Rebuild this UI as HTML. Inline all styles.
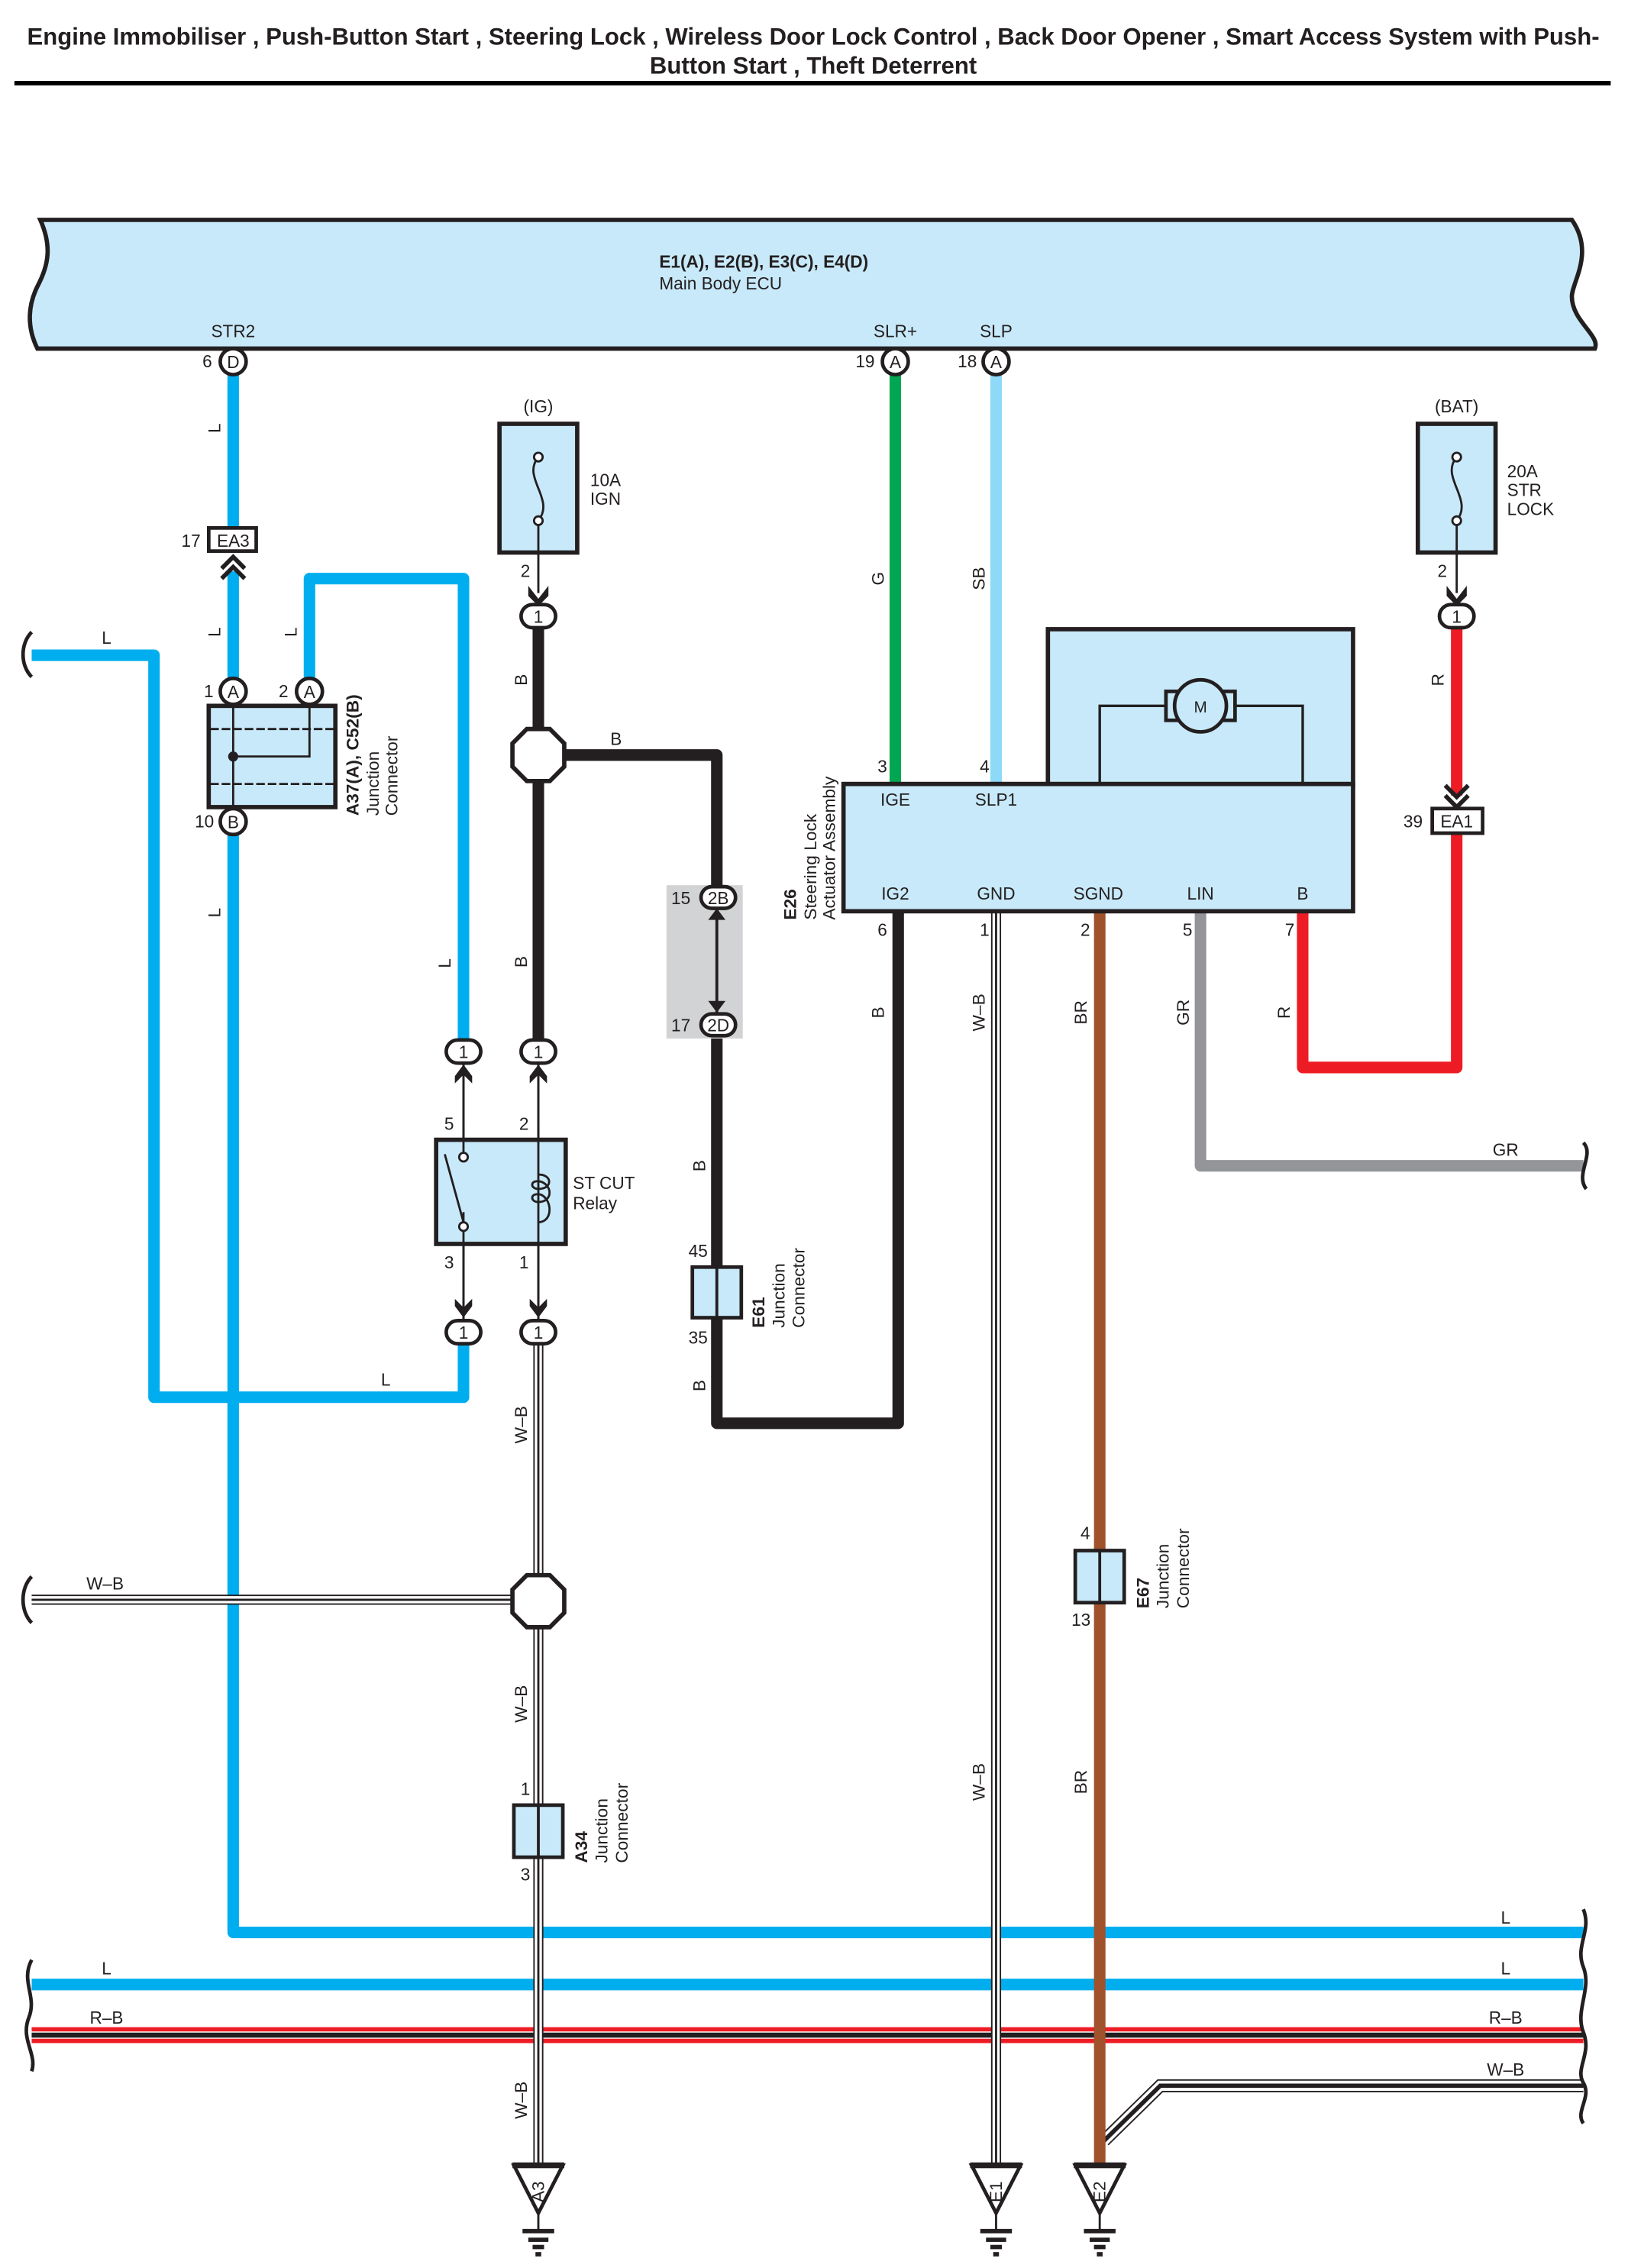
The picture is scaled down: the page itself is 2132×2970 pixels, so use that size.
<!DOCTYPE html>
<html><head><meta charset="utf-8"><style>html,body{margin:0;padding:0;background:#fff}svg{display:block}text{font-family:"Liberation Sans",sans-serif;fill:#231f20}</style></head><body>
<svg width="2132" height="2970" viewBox="0 0 1131 1568" preserveAspectRatio="none" xmlns="http://www.w3.org/2000/svg">
<defs>
<g id="gnd"><path d="M-17,0 L17,0 L0,33 Z" fill="#fff" stroke="#231f20" stroke-width="2.5"/><rect x="-18" y="-2" width="36" height="4" fill="#231f20"/><line x1="0" y1="33" x2="0" y2="45" stroke="#231f20" stroke-width="1.5"/><rect x="-11" y="44" width="22" height="3" fill="#231f20"/><rect x="-7" y="50" width="14" height="3" fill="#231f20"/><rect x="-4" y="55" width="8" height="3" fill="#231f20"/><rect x="-2" y="60" width="4" height="3" fill="#231f20"/></g>
<g id="oct"><path d="M-8,-18 L8,-18 L18,-8 L18,8 L8,18 L-8,18 L-18,8 L-18,-8 Z" fill="#fff" stroke="#231f20" stroke-width="3"/></g>
<g id="c1"><rect x="-12" y="-8" width="24" height="16" rx="8" fill="#fff" stroke="#231f20" stroke-width="2.5"/><text x="0" y="4.5" font-size="12" text-anchor="middle">1</text></g>
</defs>
<!-- title -->
<text x="565" y="31" font-size="16.5" font-weight="bold" text-anchor="middle">Engine Immobiliser , Push-Button Start , Steering Lock , Wireless Door Lock Control , Back Door Opener , Smart Access System with Push-</text>
<text x="565" y="51" font-size="16.5" font-weight="bold" text-anchor="middle">Button Start , Theft Deterrent</text>
<rect x="10" y="56" width="1109" height="3" fill="#000"/>

<!-- ECU -->
<path d="M28,152 L1092,152 C1108,175 1092,195 1092,205 C1092,222 1112,232 1108,241 L26,241 C18,225 20,210 26,198 C34,183 36,170 28,152 Z" fill="#c8e9f9" stroke="#231f20" stroke-width="3"/>
<text x="458" y="185" font-size="12" font-weight="bold">E1(A), E2(B), E3(C), E4(D)</text>
<text x="458" y="200" font-size="12">Main Body ECU</text>
<text x="162" y="233" font-size="12" text-anchor="middle">STR2</text>
<text x="622" y="233" font-size="12" text-anchor="middle">SLR+</text>
<text x="692" y="233" font-size="12" text-anchor="middle">SLP</text>

<!-- blue wires -->
<g fill="none" stroke="#00aeef" stroke-width="8" stroke-linejoin="round">
<path d="M162,258 V365"/>
<path d="M162,395 V470"/>
<path d="M215,470 V400 H322 V718"/>
<path d="M22,453 H107 V966 H322 V930"/>
<path d="M162,576 V1336 H1100"/>
<path d="M22,1372 H1100"/>
</g>
<!-- R-B -->
<path d="M22,1407 H1100" stroke="#ed1c24" stroke-width="11"/>
<path d="M22,1407 H1100" stroke="#fff" stroke-width="5"/>
<path d="M22,1407 H1100" stroke="#231f20" stroke-width="3.5"/>
<!-- W-B lines -->
<g fill="none" stroke-linejoin="miter">
<path d="M22,1106 H360" stroke="#231f20" stroke-width="7"/><path d="M22,1106 H360" stroke="#fff" stroke-width="5"/><path d="M22,1106 H360" stroke="#231f20" stroke-width="1.5"/>
<path d="M1100,1442 H806 L767,1480" stroke="#231f20" stroke-width="9"/><path d="M1100,1442 H806 L767,1480" stroke="#fff" stroke-width="7"/><path d="M1100,1442 H806 L767,1480" stroke="#231f20" stroke-width="3"/>
<path d="M374,930 V1496" stroke="#231f20" stroke-width="7"/><path d="M374,930 V1496" stroke="#fff" stroke-width="5"/><path d="M374,930 V1496" stroke="#231f20" stroke-width="1.5"/>
<path d="M692,630 V1496" stroke="#231f20" stroke-width="7"/><path d="M692,630 V1496" stroke="#fff" stroke-width="5"/><path d="M692,630 V1496" stroke="#231f20" stroke-width="1.5"/>
</g>
<!-- green, SB -->
<path d="M622,258 V542" stroke="#00a651" stroke-width="8"/>
<path d="M692,258 V542" stroke="#8ed8f8" stroke-width="8"/>
<!-- black B wires -->
<g fill="none" stroke="#231f20" stroke-width="8" stroke-linejoin="round">
<path d="M374,434 V718"/>
<path d="M374,522 H498 V612"/>
<path d="M498,716 V984 H624 V630"/>
</g>
<!-- brown -->
<path d="M764,630 V1496" stroke="#a0522d" stroke-width="8"/>
<!-- gray -->
<path d="M834,630 V806 H1100" fill="none" stroke="#939598" stroke-width="8" stroke-linejoin="round"/>
<!-- red -->
<path d="M905,630 V738 H1012 V575" fill="none" stroke="#ed1c24" stroke-width="8" stroke-linejoin="round"/>
<path d="M1012,434 V550" stroke="#ed1c24" stroke-width="8"/>

<!-- wavy breaks -->
<g fill="none" stroke="#231f20" stroke-width="2.5">
<path d="M22,437 C14,445 14,460 22,468"/>
<path d="M22,1090 C14,1098 14,1114 22,1122"/>
<path d="M22,1355 C14,1370 26,1380 20,1395 C14,1410 26,1420 22,1432"/>
<path d="M1100,790 C1108,798 1094,812 1102,822"/>
<path d="M1100,1320 C1106,1335 1094,1345 1100,1360 C1106,1375 1094,1390 1100,1405 C1106,1420 1094,1430 1100,1440 C1106,1450 1094,1460 1100,1468"/>
</g>

<!-- ECU pins -->
<g font-size="12" text-anchor="middle">
<circle cx="162" cy="250" r="9" fill="#fff" stroke="#231f20" stroke-width="2.5"/><text x="162" y="254.5">D</text><text x="144" y="254">6</text>
<circle cx="622" cy="250" r="9" fill="#fff" stroke="#231f20" stroke-width="2.5"/><text x="622" y="254.5">A</text><text x="601" y="254">19</text>
<circle cx="692" cy="250" r="9" fill="#fff" stroke="#231f20" stroke-width="2.5"/><text x="692" y="254.5">A</text><text x="672" y="254">18</text>
</g>

<!-- EA3 -->
<rect x="145" y="365" width="33" height="16" fill="#fff" stroke="#231f20" stroke-width="2.5"/>
<text x="162" y="378" font-size="12" text-anchor="middle">EA3</text><text x="126" y="378" font-size="12">17</text>
<path d="M154,393 L162,385 L170,393 M154,400 L162,392 L170,400" fill="none" stroke="#231f20" stroke-width="3"/>

<!-- A37 junction -->
<rect x="145" y="488" width="88" height="70" fill="#c8e9f9" stroke="#231f20" stroke-width="3"/>
<g stroke="#231f20" stroke-width="1.5" fill="none">
<line x1="146" y1="504" x2="232" y2="504" stroke-dasharray="6,2"/>
<line x1="146" y1="542" x2="232" y2="542" stroke-dasharray="6,2"/>
<line x1="162" y1="488" x2="162" y2="558"/>
<path d="M215,488 V523 H162"/>
</g>
<circle cx="162" cy="523" r="3.5" fill="#231f20"/>
<g font-size="12" text-anchor="middle">
<circle cx="162" cy="478" r="9" fill="#fff" stroke="#231f20" stroke-width="2.5"/><text x="162" y="482.5">A</text><text x="145" y="482">1</text>
<circle cx="215" cy="478" r="9" fill="#fff" stroke="#231f20" stroke-width="2.5"/><text x="215" y="482.5">A</text><text x="197" y="482">2</text>
<circle cx="162" cy="568" r="9" fill="#fff" stroke="#231f20" stroke-width="2.5"/><text x="162" y="572.5">B</text><text x="142" y="572">10</text>
</g>
<g font-size="12"><text transform="translate(249,564) rotate(-90)" font-weight="bold">A37(A), C52(B)</text><text transform="translate(263,564) rotate(-90)">Junction</text><text transform="translate(276,564) rotate(-90)">Connector</text></g>

<!-- IG fuse -->
<text x="374" y="285" font-size="12" text-anchor="middle">(IG)</text>
<rect x="347" y="293" width="54" height="89" fill="#c8e9f9" stroke="#231f20" stroke-width="3"/>
<path d="M374,316 C362,330 386,345 374,360 V410" fill="none" stroke="#231f20" stroke-width="1.5"/>
<circle cx="374" cy="316" r="3" fill="#fff" stroke="#231f20" stroke-width="1.5"/><circle cx="374" cy="360" r="3" fill="#fff" stroke="#231f20" stroke-width="1.5"/>
<text x="410" y="336" font-size="12">10A</text><text x="410" y="349" font-size="12">IGN</text>
<text x="365" y="399" font-size="12" text-anchor="middle">2</text>
<path d="M367,405 L374,414 L381,405 V412 L374,419 L367,412 Z" fill="#231f20"/>
<use href="#c1" x="374" y="426"/>

<!-- BAT fuse -->
<text x="1012" y="285" font-size="12" text-anchor="middle">(BAT)</text>
<rect x="985" y="293" width="54" height="89" fill="#c8e9f9" stroke="#231f20" stroke-width="3"/>
<path d="M1012,316 C1000,330 1024,345 1012,360 V410" fill="none" stroke="#231f20" stroke-width="1.5"/>
<circle cx="1012" cy="316" r="3" fill="#fff" stroke="#231f20" stroke-width="1.5"/><circle cx="1012" cy="360" r="3" fill="#fff" stroke="#231f20" stroke-width="1.5"/>
<text x="1047" y="330" font-size="12">20A</text><text x="1047" y="343" font-size="12">STR</text><text x="1047" y="356" font-size="12">LOCK</text>
<text x="1002" y="399" font-size="12" text-anchor="middle">2</text>
<path d="M1005,405 L1012,414 L1019,405 V412 L1012,419 L1005,412 Z" fill="#231f20"/>
<use href="#c1" x="1012" y="426"/>
<path d="M1004,543 L1012,551 L1020,543 M1004,550 L1012,558 L1020,550" fill="none" stroke="#231f20" stroke-width="3"/>
<rect x="995" y="559" width="35" height="17" fill="#fff" stroke="#231f20" stroke-width="2.5"/>
<text x="1012" y="572" font-size="12" text-anchor="middle">EA1</text><text x="975" y="572" font-size="12">39</text>

<!-- octagons -->
<use href="#oct" x="374" y="522"/>
<use href="#oct" x="374" y="1107"/>

<!-- 2B/2D -->
<rect x="463" y="612" width="53" height="106" fill="#d1d3d4"/>
<path d="M498,628 V700" stroke="#231f20" stroke-width="2"/>
<path d="M492,636 L498,628 L504,636 Z M492,692 L498,700 L504,692 Z" fill="#231f20"/>
<rect x="487" y="613" width="24" height="15" rx="7.5" fill="#fff" stroke="#231f20" stroke-width="2.5"/><text x="499" y="625" font-size="12" text-anchor="middle">2B</text>
<rect x="487" y="701" width="24" height="15" rx="7.5" fill="#fff" stroke="#231f20" stroke-width="2.5"/><text x="499" y="713" font-size="12" text-anchor="middle">2D</text>
<text x="473" y="625" font-size="12" text-anchor="middle">15</text><text x="473" y="713" font-size="12" text-anchor="middle">17</text>

<!-- relay connectors -->
<use href="#c1" x="322" y="727"/><use href="#c1" x="374" y="727"/>
<use href="#c1" x="322" y="921"/><use href="#c1" x="374" y="921"/>
<g stroke="#231f20" stroke-width="1.5" fill="none">
<path d="M322,735 V823"/><path d="M374,735 V810"/><path d="M374,845 V913"/><path d="M322,848 V913"/>
<path d="M309,798 L322,848"/>
<path d="M374,810 C384,812 384,820 376,822 C368,823 368,812 376,816 C384,820 384,832 376,833 C368,835 368,824 376,828 C384,832 384,843 374,845"/>
</g>
<path d="M316,744 L322,736 L328,744 V749 L322,743 L316,749 Z M368,744 L374,736 L380,744 V749 L374,743 L368,749 Z" fill="#231f20"/>
<rect x="303" y="788" width="90" height="72" fill="#c8e9f9" stroke="#231f20" stroke-width="3"/>
<g stroke="#231f20" stroke-width="1.5" fill="none">
<path d="M322,779 V798"/><path d="M374,779 V860"/><path d="M322,838 V870"/>
<path d="M309,798 L322,845"/>
<path d="M374,812 C384,812 384,822 374,822 C368,822 368,815 376,817 C384,820 384,831 374,831 C368,831 368,824 376,826 C384,830 384,845 374,845"/>
</g>
<circle cx="322" cy="800" r="3" fill="#fff" stroke="#231f20" stroke-width="1.5"/><circle cx="322" cy="848" r="3" fill="#fff" stroke="#231f20" stroke-width="1.5"/>
<g stroke="#231f20" stroke-width="1.5"><path d="M322,735 V788 M374,735 V788 M322,860 V913 M374,860 V913"/></g>
<path d="M316,903 L322,911 L328,903 V898 L322,904 L316,898 Z M368,903 L374,911 L380,903 V898 L374,904 L368,898 Z" fill="#231f20"/>
<g font-size="12" text-anchor="middle"><text x="312" y="781">5</text><text x="364" y="781">2</text><text x="312" y="877">3</text><text x="364" y="877">1</text></g>
<text x="398" y="822" font-size="12">ST CUT</text><text x="398" y="836" font-size="12">Relay</text>

<!-- E61 -->
<rect x="481" y="876" width="34" height="35" fill="#c8e9f9" stroke="#231f20" stroke-width="2.5"/><line x1="498" y1="876" x2="498" y2="911" stroke="#231f20" stroke-width="2"/>
<text x="485" y="869" font-size="12" text-anchor="middle">45</text><text x="485" y="929" font-size="12" text-anchor="middle">35</text>
<g font-size="12"><text transform="translate(531,918) rotate(-90)" font-weight="bold">E61</text><text transform="translate(545,918) rotate(-90)">Junction</text><text transform="translate(559,918) rotate(-90)">Connector</text></g>

<!-- A34 -->
<rect x="357" y="1248" width="34" height="36" fill="#c8e9f9" stroke="#231f20" stroke-width="2.5"/><line x1="374" y1="1248" x2="374" y2="1284" stroke="#231f20" stroke-width="2"/>
<text x="365" y="1241" font-size="12" text-anchor="middle">1</text><text x="365" y="1300" font-size="12" text-anchor="middle">3</text>
<g font-size="12"><text transform="translate(408,1288) rotate(-90)" font-weight="bold">A34</text><text transform="translate(422,1288) rotate(-90)">Junction</text><text transform="translate(436,1288) rotate(-90)">Connector</text></g>

<!-- E67 -->
<rect x="747" y="1072" width="34" height="36" fill="#c8e9f9" stroke="#231f20" stroke-width="2.5"/><line x1="764" y1="1072" x2="764" y2="1108" stroke="#231f20" stroke-width="2"/>
<text x="754" y="1064" font-size="12" text-anchor="middle">4</text><text x="751" y="1124" font-size="12" text-anchor="middle">13</text>
<g font-size="12"><text transform="translate(798,1112) rotate(-90)" font-weight="bold">E67</text><text transform="translate(812,1112) rotate(-90)">Junction</text><text transform="translate(826,1112) rotate(-90)">Connector</text></g>

<!-- Steering lock actuator -->
<rect x="728" y="435" width="212" height="108" fill="#c8e9f9" stroke="#231f20" stroke-width="3"/>
<path d="M764,542 V488 H905 V542" fill="none" stroke="#231f20" stroke-width="1.8"/>
<rect x="810" y="478" width="48" height="20" fill="#c8e9f9" stroke="#231f20" stroke-width="2.5"/>
<circle cx="834" cy="488" r="18" fill="#c8e9f9" stroke="#231f20" stroke-width="2.5"/>
<text x="834" y="492.5" font-size="11" text-anchor="middle">M</text>
<rect x="586" y="542" width="354" height="88" fill="#c8e9f9" stroke="#231f20" stroke-width="3"/>
<g font-size="12" text-anchor="middle">
<text x="622" y="557">IGE</text><text x="692" y="557">SLP1</text>
<text x="622" y="622">IG2</text><text x="692" y="622">GND</text><text x="763" y="622">SGND</text><text x="834" y="622">LIN</text><text x="905" y="622">B</text>
<text x="613" y="534">3</text><text x="684" y="534">4</text>
<text x="613" y="647">6</text><text x="684" y="647">1</text><text x="754" y="647">2</text><text x="825" y="647">5</text><text x="896" y="647">7</text>
</g>
<g font-size="12"><text transform="translate(553,636) rotate(-90)" font-weight="bold">E26</text><text transform="translate(567,636) rotate(-90)">Steering Lock</text><text transform="translate(580,636) rotate(-90)">Actuator Assembly</text></g>

<!-- wire labels -->
<g font-size="12" text-anchor="middle">
<text transform="translate(153,296) rotate(-90)">L</text>
<text transform="translate(153,437) rotate(-90)">L</text>
<text transform="translate(206,437) rotate(-90)">L</text>
<text transform="translate(153,631) rotate(-90)">L</text>
<text transform="translate(313,666) rotate(-90)">L</text>
<text x="74" y="445">L</text>
<text x="268" y="958">L</text>
<text transform="translate(366,470) rotate(-90)">B</text>
<text transform="translate(366,665) rotate(-90)">B</text>
<text x="428" y="515">B</text>
<text transform="translate(490,806) rotate(-90)">B</text>
<text transform="translate(490,958) rotate(-90)">B</text>
<text transform="translate(614,700) rotate(-90)">B</text>
<text transform="translate(614,400) rotate(-90)">G</text>
<text transform="translate(684,400) rotate(-90)">SB</text>
<text transform="translate(1003,470) rotate(-90)">R</text>
<text transform="translate(684,700) rotate(-90)">W–B</text>
<text transform="translate(755,700) rotate(-90)">BR</text>
<text transform="translate(826,700) rotate(-90)">GR</text>
<text transform="translate(896,700) rotate(-90)">R</text>
<text x="1046" y="799">GR</text>
<text transform="translate(366,985) rotate(-90)">W–B</text>
<text x="73" y="1099">W–B</text>
<text transform="translate(366,1178) rotate(-90)">W–B</text>
<text transform="translate(684,1232) rotate(-90)">W–B</text>
<text transform="translate(755,1232) rotate(-90)">BR</text>
<text x="1046" y="1330">L</text>
<text x="74" y="1365">L</text><text x="1046" y="1365">L</text>
<text x="74" y="1399">R–B</text><text x="1046" y="1399">R–B</text>
<text x="1046" y="1435">W–B</text>
<text transform="translate(366,1452) rotate(-90)">W–B</text>
</g>

<!-- grounds -->
<use href="#gnd" x="374" y="1497"/><text transform="translate(378,1508) rotate(-90)" font-size="12" text-anchor="end">A3</text>
<use href="#gnd" x="692" y="1497"/><text transform="translate(696,1508) rotate(-90)" font-size="12" text-anchor="end">E1</text>
<use href="#gnd" x="764" y="1497"/><text transform="translate(768,1508) rotate(-90)" font-size="12" text-anchor="end">E2</text>
</svg>
</body></html>
